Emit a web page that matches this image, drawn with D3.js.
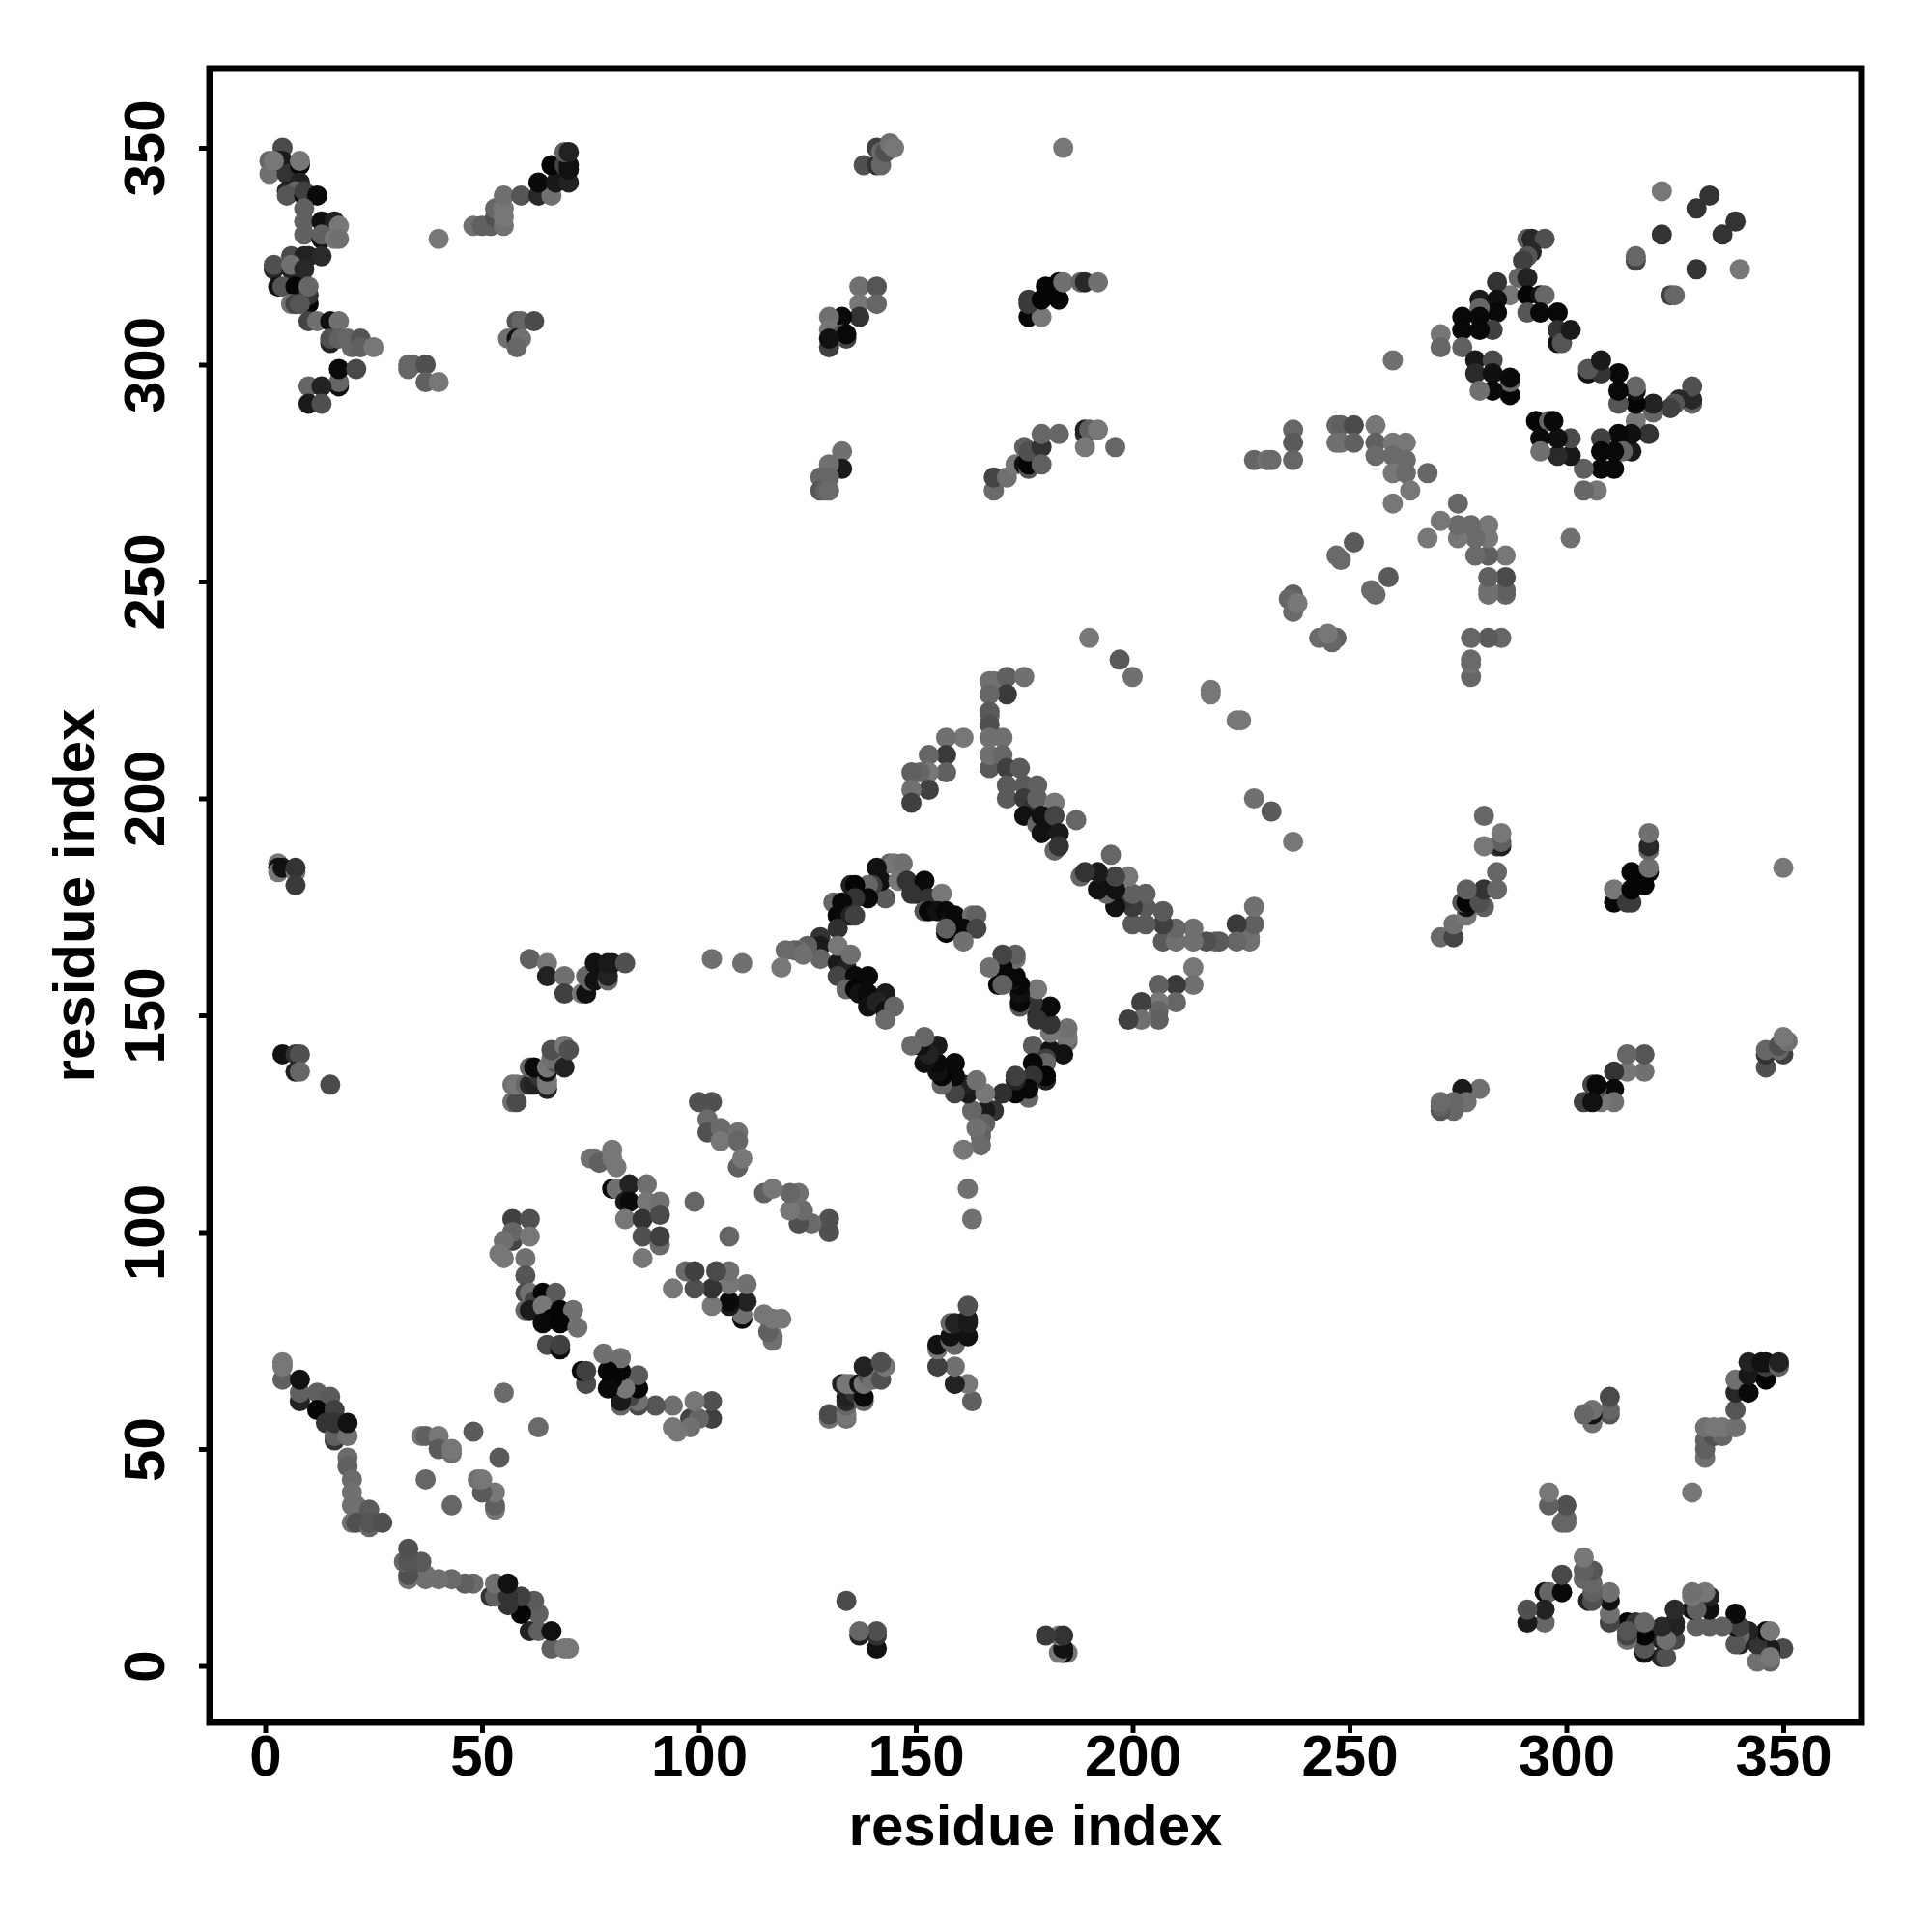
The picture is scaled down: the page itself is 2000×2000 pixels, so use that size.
<!DOCTYPE html>
<html><head><meta charset="utf-8">
<style>html,body{margin:0;padding:0;background:#fff}svg{display:block}</style>
<script src="https://cdn.jsdelivr.net/npm/d3@7/dist/d3.min.js"></script>
</head><body><div id="chart"></div>
<script>
// Each contact: [residue i, residue j, gray level]; the map is symmetric, every contact is drawn at (i,j) and (j,i).
const tickValues = [0, 50, 100, 150, 200, 250, 300, 350];
const axisTitle = "residue index";
const nTerminusToCTerminus = [
[4,350,0x4a],[1,347,0x66],[1,344,0x70],[3,347,0x08],[4,347,0x1a],[5,344,0x33],[8,346,0x08],[2,347,0x77],[8,347,0x77],[8,342,0x22],[5,340,0x22],[7,340,0x66],[5,339,0x55],[9,339,0x08],[9,340,0x40],[12,339,0x0a],
[9,336,0x60],[9,333,0x60],[9,330,0x60],[13,333,0x10],[16,333,0x22],[13,329,0x11],[13,330,0x60],[16,329,0x77],[17,332,0x77],[17,329,0x70],
[6,325,0x4a],[9,325,0x22],[10,325,0x22],[13,325,0x2a],[2,322,0x28],[2,323,0x50],[6,322,0x22],[6,323,0x70],[9,322,0x28],
[3,318,0x11],[4,318,0x55],[7,318,0x05],[10,314,0x05],[10,316,0x33],[10,318,0x66],[6,314,0x70],[7,314,0x44],[8,314,0x55],
[10,310,0x44],[12,310,0x70],[15,310,0x11],[17,310,0x70],[15,305,0x22],[15,306,0x50],[17,306,0x60],[19,306,0x66],[20,304,0x66],[22,306,0x55],[22,304,0x60],[25,304,0x77],
[17,295,0x11],[17,296,0x66],[17,299,0x0a],[21,299,0x48],[10,295,0x66],[13,295,0x22],[10,291,0x1a],[13,291,0x50]
];
const sheetSixtyToThreeFifty = [
[33,300,0x66],[34,300,0x66],[33,299,0x66],[37,300,0x50],[37,296,0x60],[40,296,0x77],[40,329,0x77],
[48,332,0x70],[50,332,0x60],[52,332,0x60],[53,334,0x50],[53,336,0x66],[55,332,0x70],[55,334,0x77],[55,336,0x77],[55,339,0x70],[59,339,0x55],[63,339,0x28],[66,339,0x70],[63,342,0x0a],[67,342,0x18],[70,342,0x22],[66,346,0x05],[69,346,0x40],[70,346,0x11],[70,345,0x11],[69,349,0x60],[70,349,0x22],
[58,310,0x55],[59,310,0x66],[62,310,0x4a],[56,306,0x70],[58,306,0x11],[59,306,0x70],[58,304,0x66]
];
const cluster130To145 = [
[138,346,0x50],[141,350,0x40],[141,346,0x33],[142,346,0x66],[142,349,0x66],[143,349,0x50],[144,351,0x70],[145,350,0x77],[184,350,0x77],
[137,318,0x70],[141,318,0x55],[137,314,0x77],[141,314,0x66],[137,311,0x33],[133,311,0x0a],[130,311,0x70],[130,308,0x77],[134,306,0x44],[133,307,0x55],[134,307,0x08],[130,304,0x40],[130,306,0x11],
[133,280,0x70],[133,276,0x1a],[130,276,0x22],[130,277,0x70],[128,274,0x66],[128,271,0x55],[130,274,0x66],[129,271,0x60],[130,271,0x6a]
];
const cluster168To196 = [
[176,311,0x08],[179,311,0x77],[176,314,0x3a],[176,315,0x3a],[180,318,0x05],[179,315,0x05],[183,315,0x08],[182,316,0x05],[183,319,0x05],[184,319,0x70],[188,319,0x66],[189,319,0x28],[192,319,0x70],
[168,271,0x6a],[168,274,0x44],[171,274,0x70],[173,277,0x77],[175,277,0x11],[176,276,0x55],[176,277,0x05],[175,281,0x60],[176,280,0x50],[179,281,0x33],[179,277,0x60],[179,284,0x66],[183,284,0x66],[189,284,0x33],[189,285,0x22],[190,285,0x60],[192,285,0x77],[189,281,0x77],[196,281,0x66]
];
const barrel270To330 = [
[322,340,0x77],[330,336,0x33],[333,339,0x33],[322,330,0x33],[316,324,0x44],[316,325,0x66],
[291,329,0x60],[292,329,0x28],[295,329,0x50],[292,326,0x28],[291,325,0x55],[290,324,0x40],[289,320,0x66],[291,320,0x22],[287,316,0x77],[291,316,0x05],[294,316,0x11],[295,316,0x66],
[284,319,0x33],[280,315,0x1a],[284,315,0x10],[284,312,0x08],[280,313,0x66],[276,311,0x08],[280,311,0x08],[291,312,0x55],[294,312,0x08],[298,312,0x08],[298,305,0x11],[298,308,0x33],[299,305,0x55],[301,308,0x1a],
[283,308,0x40],[280,308,0x08],[276,308,0x08],[276,304,0x60],[271,307,0x77],[271,304,0x66],[260,301,0x70],
[279,301,0x18],[283,301,0x4a],[279,298,0x2a],[283,298,0x10],[287,293,0x05],[287,296,0x66],[287,297,0x0a],[283,294,0x0a],[280,294,0x70]
];
const looseContacts228To268 = [
[228,278,0x66],[231,278,0x70],[232,278,0x6a],[237,285,0x66],[237,282,0x5a],[237,278,0x66],
[247,286,0x66],[248,286,0x60],[247,282,0x70],[248,282,0x70],[251,286,0x4a],[251,282,0x60],[256,286,0x77],[256,282,0x60],[256,279,0x6a],[260,282,0x77],[263,282,0x77],[260,279,0x6a],[263,278,0x6a],[260,275,0x77],[263,275,0x6a],[268,275,0x66],[264,271,0x77],[260,268,0x77],
[251,259,0x5a],[247,256,0x6a],[248,255,0x6a],[237,247,0x60],[236,246,0x66],[237,243,0x6a],[238,245,0x77],
[190,237,0x77],[197,232,0x5a],[200,228,0x70],[218,224,0x77],[218,225,0x77]
];
const strand167To183 = [
[167,227,0x70],[168,227,0x70],[171,228,0x60],[175,228,0x70],[171,224,0x3a],[167,224,0x66],[167,219,0x70],[167,220,0x5a],[167,217,0x50],[167,214,0x70],[170,214,0x70],[167,207,0x5a],[167,210,0x70],[170,210,0x66],[171,207,0x40],[174,207,0x5a],
[171,203,0x5a],[175,203,0x5a],[178,203,0x60],[171,200,0x5a],[175,200,0x3a],[177,198,0x33],[178,200,0x60],[182,199,0x77],[175,196,0x11],[178,194,0x66],[179,196,0x11],[181,194,0x11],[182,196,0x44],[187,195,0x66],[179,192,0x11],[183,192,0x1a],[182,188,0x66],[183,189,0x33],
[161,214,0x77],[157,214,0x70],[157,210,0x3a],[153,210,0x66],[157,206,0x60],[153,206,0x77],[151,206,0x66],[149,206,0x60],[153,202,0x40],[149,202,0x70],[149,199,0x40]
];
const barrel128To164 = [
[144,185,0x66],[145,185,0x77],[147,185,0x70],[141,184,0x11],[143,177,0x5a],[142,181,0x11],[146,181,0x77],[140,180,0x40],[139,180,0x66],[135,180,0x22],[136,180,0x05],[139,177,0x08],[136,177,0x33],[131,176,0x66],[133,176,0x08],[132,173,0x08],[135,173,0x22],[136,173,0x40],[132,170,0x30],
[128,168,0x33],[128,166,0x1a],[128,163,0x66],[125,166,0x60],[123,165,0x6a],[122,165,0x60],[124,164,0x70],[120,165,0x6a],[119,161,0x77],
[148,181,0x33],[150,178,0x22],[152,181,0x0a],[149,178,0x33],[153,177,0x33],[156,178,0x77],[152,174,0x55],[153,174,0x08],[155,174,0x11],[157,174,0x08],[158,172,0x11],[159,173,0x08],[163,173,0x70],[164,173,0x60],[161,170,0x08],[164,170,0x44],[157,169,0x05],[157,170,0x60],[161,167,0x70],
[132,162,0x1a],[134,161,0x22],[132,159,0x44],[132,166,0x77],[135,164,0x70],[136,159,0x0a],[139,159,0x0a],[134,156,0x66],[136,156,0x05],[137,155,0x11],[139,155,0x0a],[143,155,0x1a],[139,152,0x11],[141,153,0x22],[143,151,0x11],[145,152,0x66],[143,149,0x6a]
];
const earlyToMiddle = [
[3,185,0x77],[3,184,0x11],[3,183,0x77],[4,184,0x11],[7,183,0x77],[7,184,0x33],[7,180,0x3a],
[61,163,0x60],[65,162,0x77],[65,159,0x22],[69,159,0x70],[69,155,0x40],[73,155,0x77],[74,155,0x11],[74,159,0x66],[76,159,0x55],[75,158,0x66],[76,158,0x11],[76,162,0x11],[79,158,0x66],[79,159,0x22],[79,162,0x1a],[80,162,0x1a],[83,162,0x50],[103,163,0x70],[110,162,0x70],
[4,141,0x11],[7,141,0x33],[8,141,0x50],[7,137,0x22],[8,137,0x66],[15,134,0x4a],
[57,130,0x70],[58,130,0x4a],[57,134,0x70],[58,134,0x77],[60,134,0x66],[61,134,0x2a],[62,134,0x22],[63,136,0x33],[61,138,0x66],[62,138,0x0a],[65,133,0x22],[65,134,0x77],[65,135,0x77],[65,137,0x11],[65,138,0x77],[67,139,0x55],[66,140,0x70],[66,142,0x50],[69,138,0x22],[69,143,0x77],[70,142,0x50]
];
const strand55To110 = [
[100,130,0x50],[103,130,0x50],[102,126,0x6a],[102,123,0x50],[105,124,0x6a],[105,121,0x77],[109,123,0x70],[109,121,0x66],[109,115,0x60],[110,117,0x77],
[75,117,0x70],[76,117,0x70],[77,116,0x60],[80,117,0x77],[80,119,0x77],[81,115,0x77],
[80,110,0x0a],[81,110,0x70],[84,111,0x22],[88,111,0x70],[83,107,0x1a],[84,107,0x0a],[88,107,0x77],[91,107,0x70],[83,103,0x77],[87,103,0x33],[91,104,0x4a],[87,99,0x50],[91,97,0x6a],[91,99,0x40],[87,94,0x77],[99,107,0x66],
[57,103,0x40],[61,103,0x50],[57,98,0x44],[57,100,0x66],[61,99,0x77],[55,98,0x70],[54,95,0x77],[55,94,0x77],[60,94,0x70],[60,90,0x55],[60,86,0x4a],[61,86,0x70],[62,84,0x44],[64,86,0x05],[66,84,0x0a],[67,86,0x5a],[60,82,0x66],[61,82,0x1a],[64,83,0x77],[66,80,0x05],[68,82,0x05],[71,82,0x70],[64,79,0x0a],[68,79,0x05],[72,78,0x70],[65,74,0x4a],[68,73,0x0a],[68,74,0x40]
];
const shortRangeContacts = [
[4,66,0x60],[4,69,0x77],[4,70,0x77],[8,61,0x22],[8,63,0x60],[8,66,0x11],[12,63,0x60],[15,62,0x5a],[12,59,0x05],[16,59,0x40],[14,56,0x33],[16,52,0x33],[16,53,0x60],[16,56,0x33],[19,53,0x70],[19,56,0x11],
[19,48,0x6a],[19,46,0x60],[20,43,0x6a],[20,40,0x70],[20,37,0x70],[21,37,0x70],[24,36,0x5a],[20,33,0x70],[21,33,0x50],[24,32,0x66],[24,33,0x55],[27,33,0x50],
[36,53,0x77],[37,53,0x60],[40,53,0x77],[40,50,0x5a],[43,49,0x70],[43,50,0x77],[37,43,0x66],[48,54,0x5a],[55,63,0x6a]
];
const contacts = [nTerminusToCTerminus, sheetSixtyToThreeFifty, cluster130To145, cluster168To196, barrel270To330, looseContacts228To268, strand167To183, barrel128To164, earlyToMiddle, strand55To110, shortRangeContacts].flat();

const size = 2000;
const plot = {left: 217, right: 1927, top: 71, bottom: 1783};
const unit = 4.49;
const zeroX = 274.5, zeroY = 1724.5;
const x = d3.scaleLinear().domain([(plot.left - zeroX) / unit, (plot.right - zeroX) / unit]).range([plot.left, plot.right]);
const y = d3.scaleLinear().domain([(zeroY - plot.bottom) / unit, (zeroY - plot.top) / unit]).range([plot.bottom, plot.top]);

const font = '"Liberation Sans", Arial, Helvetica, sans-serif';
const svg = d3.select("#chart").append("svg").attr("width", size).attr("height", size).attr("viewBox", [0, 0, size, size]);
svg.append("rect").attr("width", size).attr("height", size).attr("fill", "#fff");

const grayOf = v => d3.rgb(v, v, v).formatHex();
const marks = contacts.flatMap(([i, j, g]) => [{a: i, b: j, g}, {a: j, b: i, g}]);
svg.append("g").selectAll("circle").data(marks).join("circle")
  .attr("cx", d => x(d.a)).attr("cy", d => y(d.b)).attr("r", 10.5)
  .attr("fill", d => grayOf(d.g));

const xAxis = svg.append("g").attr("transform", `translate(0,${plot.bottom})`)
  .call(d3.axisBottom(x).tickValues(tickValues).tickSize(11).tickPadding(1).tickFormat(d3.format("d")));
const yAxis = svg.append("g").attr("transform", `translate(${plot.left},0)`)
  .call(d3.axisLeft(y).tickValues(tickValues).tickSize(11).tickPadding(18).tickFormat(d3.format("d")));
[xAxis, yAxis].forEach(a => {
  a.select(".domain").remove();
  a.selectAll(".tick line").attr("stroke", "#000").attr("stroke-width", 5);
  a.selectAll("text").attr("fill", "#000").attr("font-family", font).attr("font-weight", 700).attr("font-size", 60);
});
yAxis.selectAll("text").attr("transform", "rotate(-90)").attr("x", 0).attr("y", -47).attr("dy", 0).attr("text-anchor", "middle");

svg.append("rect").attr("x", plot.left).attr("y", plot.top).attr("width", plot.right - plot.left).attr("height", plot.bottom - plot.top)
  .attr("fill", "none").attr("stroke", "#000").attr("stroke-width", 7);

svg.append("text").attr("x", (plot.left + plot.right) / 2).attr("y", 1910).attr("text-anchor", "middle")
  .attr("font-family", font).attr("font-weight", 700).attr("font-size", 60).text(axisTitle);
svg.append("text").attr("transform", `translate(97,${(plot.top + plot.bottom) / 2}) rotate(-90)`).attr("text-anchor", "middle")
  .attr("font-family", font).attr("font-weight", 700).attr("font-size", 60).text(axisTitle);
</script></body></html>
